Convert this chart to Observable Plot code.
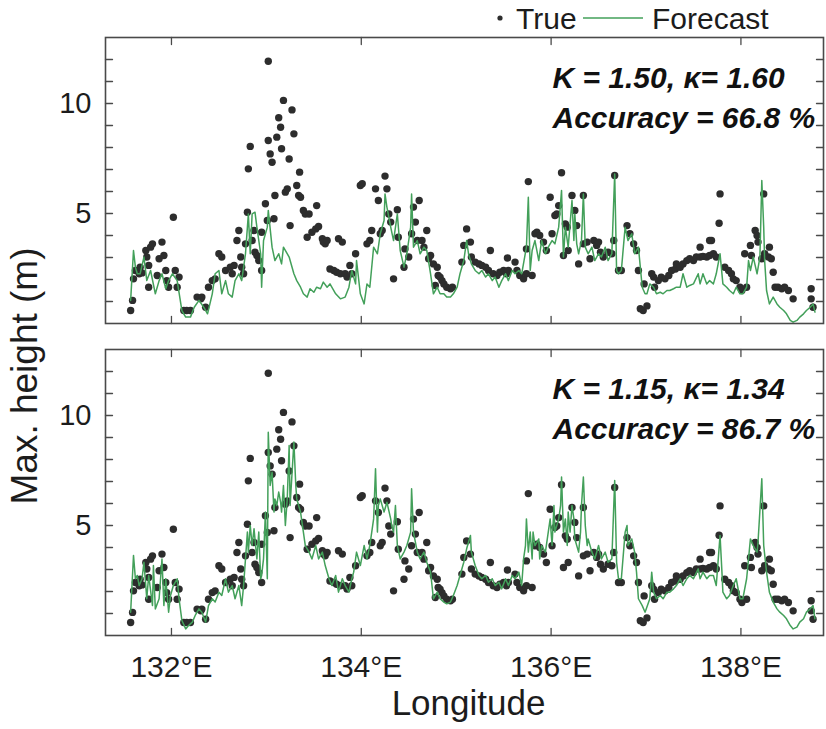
<!DOCTYPE html>
<html><head><meta charset="utf-8">
<script src="https://cdn.jsdelivr.net/npm/d3@7"></script>
<script src="https://cdn.jsdelivr.net/npm/@observablehq/plot@0.6"></script>
<style>
body{margin:0;background:#fff;}
#root{position:relative;width:826px;height:729px;background:#fff;}
.panel{position:absolute;left:0;}
#legend{position:absolute;left:0;top:0;}
</style></head>
<body><div id="root"><div id="p1" class="panel" style="top:0"></div><div id="p2" class="panel" style="top:336px"></div><svg id="legend" width="826" height="37"></svg></div>
<script>
const FONT = '"Liberation Sans", Arial, Helvetica, sans-serif';
const xTicks = [132, 134, 136, 138];
const yMinorTicks = [1,2,3,4,5,6,7,8,9,10,11,12];
const yLabelTicks = [5, 10];
const annotTop = ["K = 1.50, \u03ba= 1.60", "Accuracy = 66.8 %"];
const annotBottom = ["K = 1.15, \u03ba= 1.34", "Accuracy = 86.7 %"];

// True max heights [longitude, height m]
const observed = [[131.57,0.59],[131.59,1.05],[131.60,2.03],[131.62,2.41],[131.66,2.26],[131.67,2.56],[131.69,2.30],[131.73,3.32],[131.74,3.02],[131.76,2.64],[131.76,1.65],[131.78,3.47],[131.80,3.62],[131.85,2.18],[131.87,2.94],[131.90,3.70],[131.92,3.09],[131.94,2.41],[131.95,1.95],[131.97,1.65],[132.02,4.83],[132.04,2.41],[132.06,1.65],[132.08,2.11],[132.13,0.59],[132.16,0.59],[132.20,0.59],[132.27,1.20],[132.31,1.12],[132.32,1.20],[132.36,0.74],[132.39,1.65],[132.43,1.95],[132.46,2.03],[132.50,3.17],[132.53,3.02],[132.57,2.41],[132.62,2.56],[132.64,2.26],[132.66,2.64],[132.69,3.77],[132.71,4.23],[132.73,3.02],[132.74,2.56],[132.76,2.26],[132.78,3.62],[132.80,5.06],[132.81,7.03],[132.83,8.05],[132.85,3.77],[132.87,4.23],[132.88,3.24],[132.90,3.09],[132.92,2.86],[132.95,2.41],[132.95,4.15],[132.99,5.44],[133.01,4.68],[133.02,8.32],[133.02,11.92],[133.04,7.71],[133.06,7.33],[133.08,4.76],[133.09,5.82],[133.11,8.47],[133.13,9.35],[133.15,8.92],[133.16,7.94],[133.18,10.14],[133.20,5.97],[133.22,6.12],[133.24,7.48],[133.25,4.45],[133.27,9.71],[133.29,8.62],[133.32,6.27],[133.34,5.82],[133.35,6.88],[133.36,5.74],[133.39,5.14],[133.41,4.98],[133.43,3.92],[133.45,4.98],[133.48,4.15],[133.52,4.30],[133.53,5.36],[133.55,4.41],[133.59,3.85],[133.60,3.70],[133.62,3.62],[133.64,3.77],[133.67,2.48],[133.71,2.41],[133.74,2.33],[133.76,3.85],[133.78,2.26],[133.80,3.70],[133.83,2.26],[133.85,2.11],[133.88,2.64],[133.90,2.26],[133.94,3.17],[133.99,6.27],[134.01,6.35],[134.06,3.62],[134.09,3.77],[134.11,4.23],[134.15,6.12],[134.18,5.59],[134.20,4.08],[134.22,4.23],[134.25,6.70],[134.27,6.12],[134.29,4.98],[134.31,4.61],[134.34,2.03],[134.38,5.17],[134.39,3.92],[134.45,2.56],[134.46,3.39],[134.50,3.02],[134.53,4.08],[134.55,5.29],[134.57,4.61],[134.59,3.77],[134.61,5.59],[134.64,3.77],[134.66,3.47],[134.69,4.23],[134.71,2.94],[134.73,3.09],[134.76,2.71],[134.78,1.73],[134.80,2.56],[134.81,2.18],[134.83,2.11],[134.85,1.95],[134.87,1.80],[134.90,1.65],[134.94,1.58],[134.96,1.65],[135.06,2.79],[135.08,3.55],[135.11,4.30],[135.15,3.70],[135.16,3.02],[135.20,2.79],[135.24,2.71],[135.27,2.64],[135.31,2.56],[135.34,2.41],[135.36,3.32],[135.39,2.26],[135.43,2.18],[135.46,2.33],[135.50,2.41],[135.53,2.26],[135.54,2.98],[135.55,2.41],[135.62,2.79],[135.64,2.41],[135.67,2.18],[135.71,2.03],[135.74,2.26],[135.74,3.39],[135.76,6.45],[135.80,2.18],[135.83,4.08],[135.85,4.15],[135.88,4.00],[135.92,3.70],[135.95,3.32],[135.99,5.74],[136.01,4.08],[136.04,4.91],[136.06,4.98],[136.08,5.36],[136.11,6.85],[136.13,3.09],[136.15,4.53],[136.17,4.38],[136.18,3.32],[136.22,5.82],[136.25,5.14],[136.27,4.45],[136.29,2.71],[136.34,5.82],[136.34,3.62],[136.38,3.70],[136.41,2.94],[136.45,3.77],[136.48,3.55],[136.50,3.70],[136.52,3.24],[136.55,3.02],[136.60,3.24],[136.64,3.17],[136.66,3.77],[136.67,6.73],[136.71,2.41],[136.74,2.41],[136.80,4.45],[136.83,4.08],[136.87,3.62],[136.90,3.32],[136.92,2.41],[136.94,0.67],[136.97,0.59],[136.98,1.80],[137.01,0.80],[137.06,2.26],[137.08,2.11],[137.09,1.65],[137.13,1.95],[137.16,2.11],[137.20,2.03],[137.24,2.18],[137.27,2.41],[137.31,2.48],[137.32,2.71],[137.36,2.56],[137.39,2.71],[137.43,2.86],[137.46,2.94],[137.50,2.86],[137.53,3.02],[137.57,3.02],[137.57,3.47],[137.60,3.05],[137.64,3.02],[137.67,3.09],[137.67,3.77],[137.69,3.77],[137.71,3.17],[137.74,3.02],[137.77,4.56],[137.78,5.89],[137.83,2.56],[137.87,2.41],[137.90,2.26],[137.92,2.03],[137.95,1.95],[137.99,1.65],[138.01,1.50],[138.04,3.17],[138.06,1.65],[138.10,3.55],[138.11,3.09],[138.15,4.23],[138.17,4.00],[138.18,3.70],[138.22,2.94],[138.24,5.89],[138.25,3.17],[138.29,3.02],[138.30,3.47],[138.32,2.94],[138.34,2.33],[138.36,1.65],[138.39,1.65],[138.43,1.58],[138.46,1.65],[138.50,1.50],[138.55,1.12],[138.74,1.58],[138.74,1.12],[138.76,0.74]];

// Forecast, K = 1.50
const forecastA = [[131.57,1.05],[131.60,3.32],[131.62,2.56],[131.64,2.26],[131.67,2.26],[131.71,3.02],[131.74,1.95],[131.78,2.41],[131.83,1.35],[131.87,1.95],[131.90,2.26],[131.94,1.58],[131.97,1.95],[132.01,2.26],[132.06,1.95],[132.11,0.59],[132.15,0.29],[132.20,0.29],[132.24,0.74],[132.29,1.05],[132.34,0.74],[132.38,0.44],[132.43,1.35],[132.46,2.26],[132.50,2.41],[132.53,1.35],[132.57,1.95],[132.60,1.35],[132.64,1.20],[132.67,1.95],[132.71,2.26],[132.74,1.95],[132.78,3.17],[132.81,4.98],[132.83,3.17],[132.85,4.98],[132.88,5.06],[132.90,4.38],[132.94,3.17],[132.95,1.65],[132.97,3.77],[133.01,4.38],[133.02,5.14],[133.06,3.47],[133.09,2.86],[133.13,3.17],[133.16,2.71],[133.18,3.47],[133.24,3.02],[133.29,2.26],[133.32,1.95],[133.36,1.65],[133.39,1.35],[133.43,1.20],[133.46,1.58],[133.50,1.42],[133.53,1.65],[133.57,1.58],[133.60,1.88],[133.64,1.65],[133.67,1.80],[133.73,1.35],[133.78,1.12],[133.83,1.20],[133.87,1.65],[133.90,2.41],[133.94,1.80],[133.95,2.86],[133.99,1.35],[134.03,0.89],[134.06,1.80],[134.09,1.65],[134.13,3.47],[134.17,3.17],[134.20,4.08],[134.24,4.68],[134.25,5.89],[134.27,5.29],[134.31,4.38],[134.34,3.77],[134.38,4.98],[134.41,3.32],[134.45,2.56],[134.48,3.17],[134.52,4.38],[134.53,5.89],[134.55,3.47],[134.59,3.77],[134.62,3.17],[134.66,3.47],[134.69,3.32],[134.73,2.26],[134.76,1.35],[134.80,1.65],[134.83,1.35],[134.87,1.35],[134.90,1.20],[134.94,1.20],[134.97,1.35],[135.01,1.65],[135.04,2.26],[135.08,2.86],[135.11,3.77],[135.13,3.17],[135.16,2.71],[135.20,2.41],[135.24,2.26],[135.27,2.41],[135.31,2.11],[135.34,2.26],[135.38,1.95],[135.41,2.11],[135.45,1.65],[135.48,1.95],[135.52,2.26],[135.55,1.95],[135.59,2.41],[135.62,2.26],[135.66,2.41],[135.69,2.26],[135.74,3.47],[135.76,5.74],[135.78,2.41],[135.80,3.32],[135.83,3.77],[135.87,2.86],[135.90,3.77],[135.94,3.17],[135.97,3.47],[136.01,3.77],[136.04,3.62],[136.08,4.38],[136.11,6.05],[136.13,3.02],[136.15,4.38],[136.18,3.47],[136.22,5.59],[136.24,3.77],[136.25,4.98],[136.27,3.62],[136.29,3.17],[136.32,3.77],[136.34,5.89],[136.36,3.47],[136.39,3.17],[136.43,3.47],[136.46,2.86],[136.50,3.17],[136.53,3.02],[136.57,3.47],[136.60,2.86],[136.64,3.17],[136.67,6.80],[136.69,2.41],[136.71,2.26],[136.74,2.41],[136.78,4.38],[136.81,3.77],[136.85,4.08],[136.88,3.17],[136.92,3.47],[136.96,1.65],[136.99,1.35],[137.01,1.35],[137.04,1.80],[137.08,1.65],[137.11,1.35],[137.15,1.42],[137.18,1.35],[137.22,1.50],[137.25,1.50],[137.29,1.58],[137.32,1.65],[137.36,1.65],[137.39,2.26],[137.43,1.65],[137.46,1.73],[137.50,1.80],[137.55,2.26],[137.57,1.80],[137.60,2.26],[137.64,1.80],[137.67,1.95],[137.71,1.80],[137.74,2.26],[137.78,3.17],[137.81,1.80],[137.85,1.65],[137.88,1.50],[137.92,1.35],[137.95,1.65],[137.99,1.35],[138.02,1.35],[138.06,1.65],[138.08,2.86],[138.10,2.41],[138.13,3.02],[138.17,2.26],[138.20,3.02],[138.22,6.50],[138.24,4.38],[138.25,2.86],[138.27,1.50],[138.30,0.89],[138.34,1.20],[138.38,0.89],[138.41,0.74],[138.45,0.59],[138.48,0.44],[138.52,0.14],[138.55,0.06],[138.59,0.14],[138.62,0.29],[138.66,0.44],[138.69,0.59],[138.73,0.74],[138.76,0.89],[138.78,0.52]];

// Forecast, K = 1.15
const forecastB = [[131.57,1.06],[131.60,3.64],[131.62,2.58],[131.64,2.73],[131.66,2.27],[131.69,2.58],[131.71,3.33],[131.74,1.67],[131.76,2.73],[131.80,1.36],[131.81,3.18],[131.83,1.21],[131.87,1.67],[131.90,3.48],[131.92,1.36],[131.94,2.58],[131.97,1.06],[131.99,1.82],[132.02,2.27],[132.06,2.58],[132.08,1.67],[132.11,0.68],[132.15,0.30],[132.18,0.45],[132.22,0.61],[132.25,0.91],[132.29,1.21],[132.32,1.06],[132.36,0.61],[132.39,1.36],[132.43,1.67],[132.46,1.52],[132.50,1.97],[132.53,1.82],[132.57,2.58],[132.60,1.97],[132.64,2.27],[132.67,1.67],[132.71,2.27],[132.74,1.36],[132.76,2.27],[132.80,4.70],[132.81,3.79],[132.83,5.00],[132.85,4.09],[132.87,4.85],[132.88,4.39],[132.90,3.48],[132.92,4.70],[132.94,2.58],[132.95,2.73],[132.97,3.48],[132.99,5.61],[133.01,2.58],[133.02,9.24],[133.04,6.82],[133.06,7.42],[133.08,5.61],[133.09,6.21],[133.11,5.91],[133.13,6.52],[133.15,6.06],[133.16,5.61],[133.18,6.82],[133.20,5.00],[133.22,6.21],[133.24,8.64],[133.25,5.91],[133.29,8.79],[133.31,6.82],[133.32,6.21],[133.34,5.91],[133.36,5.61],[133.39,4.70],[133.41,4.09],[133.45,3.79],[133.48,3.48],[133.52,4.09],[133.55,3.48],[133.59,3.79],[133.62,3.18],[133.66,2.58],[133.69,2.27],[133.73,2.73],[133.76,1.97],[133.80,2.58],[133.83,2.27],[133.87,1.97],[133.90,2.58],[133.92,2.88],[133.95,3.79],[133.99,3.18],[134.03,4.09],[134.06,3.48],[134.09,4.09],[134.13,5.30],[134.15,7.58],[134.17,4.70],[134.18,5.91],[134.20,6.21],[134.24,5.61],[134.27,6.06],[134.31,5.30],[134.32,5.00],[134.34,4.70],[134.36,5.91],[134.38,4.09],[134.41,3.48],[134.45,3.79],[134.48,4.09],[134.52,4.70],[134.53,6.67],[134.55,4.70],[134.59,3.79],[134.62,3.48],[134.66,3.79],[134.69,3.33],[134.73,2.88],[134.76,1.67],[134.80,1.97],[134.83,1.67],[134.87,1.52],[134.90,1.44],[134.94,1.52],[134.97,1.82],[135.01,2.27],[135.04,2.73],[135.08,3.33],[135.11,3.94],[135.15,4.55],[135.16,3.79],[135.20,3.18],[135.24,2.73],[135.27,2.58],[135.31,2.73],[135.34,2.42],[135.38,2.58],[135.41,2.27],[135.45,2.42],[135.48,2.12],[135.52,2.58],[135.55,2.27],[135.59,2.73],[135.62,2.58],[135.66,2.88],[135.69,2.27],[135.71,3.48],[135.73,4.09],[135.74,5.30],[135.76,3.79],[135.78,4.70],[135.80,3.48],[135.81,4.70],[135.83,4.09],[135.87,4.39],[135.88,3.48],[135.90,4.09],[135.94,3.79],[135.97,4.70],[135.99,5.30],[136.01,4.09],[136.03,5.91],[136.04,4.70],[136.08,5.30],[136.10,5.91],[136.11,7.20],[136.13,4.70],[136.15,5.30],[136.17,4.09],[136.18,5.61],[136.20,4.70],[136.22,5.91],[136.24,5.30],[136.25,4.39],[136.29,3.79],[136.31,4.70],[136.32,5.91],[136.34,7.20],[136.36,5.00],[136.38,4.09],[136.39,4.39],[136.43,3.79],[136.46,3.48],[136.50,4.09],[136.53,3.48],[136.57,3.79],[136.60,3.33],[136.64,3.48],[136.67,7.05],[136.69,3.33],[136.71,2.58],[136.74,2.58],[136.78,4.70],[136.80,5.00],[136.81,4.09],[136.85,4.39],[136.88,3.79],[136.90,2.88],[136.92,1.67],[136.96,1.36],[136.99,1.06],[137.04,1.67],[137.06,2.88],[137.08,1.97],[137.11,1.67],[137.15,1.82],[137.18,1.67],[137.22,1.97],[137.25,1.97],[137.29,2.12],[137.32,2.27],[137.36,2.58],[137.39,2.27],[137.43,2.58],[137.46,2.73],[137.50,2.58],[137.55,3.03],[137.57,2.58],[137.60,2.88],[137.64,2.58],[137.67,2.73],[137.71,2.73],[137.74,2.27],[137.78,4.55],[137.80,2.88],[137.81,1.97],[137.85,1.67],[137.88,1.82],[137.92,2.27],[137.95,2.58],[137.99,1.67],[138.02,1.67],[138.06,2.58],[138.10,4.39],[138.13,4.09],[138.17,3.79],[138.18,4.24],[138.22,7.12],[138.24,4.09],[138.27,2.88],[138.30,1.97],[138.34,1.52],[138.38,1.21],[138.41,1.06],[138.45,0.91],[138.48,0.76],[138.52,0.45],[138.55,0.30],[138.59,0.38],[138.62,0.61],[138.66,0.76],[138.69,1.06],[138.73,1.21],[138.76,1.36],[138.78,0.76]];

const DOT = "#2d2d2d", GREEN = "#43a05a", FRAME = "#4a4a4a", TEXT = "#1c1c1c";
const tickShape = {draw(context, l) { context.moveTo(0, 0); context.lineTo(0, -l); }};

function inTicks(data, channel, frameAnchor, rotate) {
  return Plot.vector(data, {[channel]: d => d, frameAnchor, rotate, length: 7, anchor: "start", shape: tickShape, stroke: FRAME, strokeWidth: 1.3});
}

function panel(forecast, annot, opts) {
  const marks = [
    Plot.dot(observed, {x: d => d[0], y: d => d[1], r: 3.7, fill: DOT}),
    Plot.line(forecast, {x: d => d[0], y: d => d[1], stroke: GREEN, strokeWidth: 1.5}),
    Plot.frame({stroke: FRAME, strokeWidth: 1.6}),
    inTicks(xTicks, "x", "bottom", 0),
    inTicks(xTicks, "x", "top", 180),
    inTicks(yMinorTicks, "y", "left", 90),
    inTicks(yMinorTicks, "y", "right", -90),
    Plot.axisY(yLabelTicks, {anchor: "left", tickSize: 0, tickPadding: 14, fontSize: 29, fill: TEXT, tickFormat: d => String(d), label: null}),
    Plot.text([annot[0]], {frameAnchor: "top-left", dx: 447, dy: opts.annDy, text: d => d, textAnchor: "start", lineAnchor: "bottom", fontSize: 30, fontWeight: "bold", fontStyle: "italic", fill: "#111"}),
    Plot.text([annot[1]], {frameAnchor: "top-left", dx: 447, dy: opts.annDy + 40, text: d => d, textAnchor: "start", lineAnchor: "bottom", fontSize: 30, fontWeight: "bold", fontStyle: "italic", fill: "#111"})
  ];
  if (opts.bottom) {
    marks.push(
      Plot.axisX(xTicks, {anchor: "bottom", tickSize: 0, tickPadding: 20, fontSize: 30, fill: TEXT, tickFormat: d => d + "\u00b0E", label: null}),
      Plot.text(["Longitude"], {frameAnchor: "bottom", dy: 79, dx: 4, text: d => d, fontSize: 35, fill: TEXT}),
      Plot.text(["Max. height (m)"], {frameAnchor: "left", dx: -80, dy: 12, rotate: -90, text: d => d, fontSize: 37, fill: TEXT})
    );
  }
  return Plot.plot({
    width: 826, height: opts.height,
    marginLeft: 105, marginRight: 3, marginTop: opts.mt, marginBottom: opts.mb,
    style: {fontFamily: FONT, background: "white", overflow: "visible"},
    x: opts.bottom ? {domain: [131.305, 138.87]} : {domain: [131.305, 138.87], axis: null},
    y: {domain: [0, 13]},
    marks
  });
}

document.getElementById("p1").appendChild(panel(forecastA, annotTop, {height: 336, mt: 37, mb: 13, annDy: 50, bottom: false}));
document.getElementById("p2").appendChild(panel(forecastB, annotBottom, {height: 393, mt: 13, mb: 94, annDy: 49, bottom: true}));

// legend
const lg = d3.select("#legend").style("font-family", FONT);
lg.append("circle").attr("cx", 500).attr("cy", 18).attr("r", 2.6).attr("fill", DOT);
lg.append("text").attr("x", 516).attr("y", 29).attr("font-size", 30).attr("fill", TEXT).text("True");
lg.append("line").attr("x1", 583).attr("x2", 643).attr("y1", 18).attr("y2", 18).attr("stroke", GREEN).attr("stroke-width", 1.5);
lg.append("text").attr("x", 652).attr("y", 29).attr("font-size", 30).attr("fill", TEXT).text("Forecast");
</script>
</body></html>
